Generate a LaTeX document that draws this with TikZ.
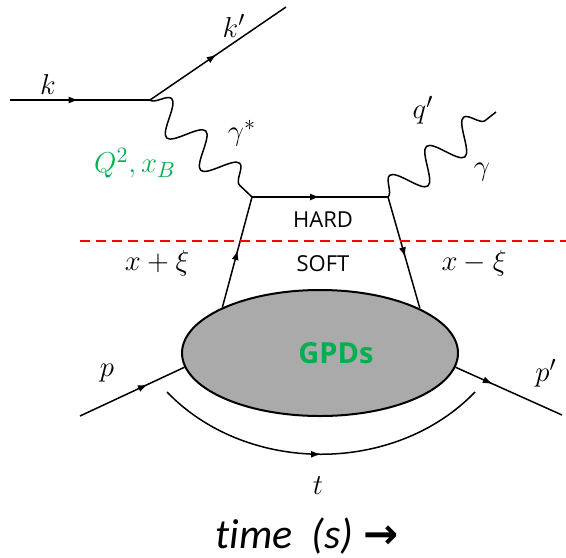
\documentclass[tikz,border=0pt]{standalone}
\usepackage{fontspec}
\usepackage{amsmath}
\usepackage{tikz}
\usetikzlibrary{shapes.geometric,arrows.meta,positioning,decorations.pathmorphing,decorations.markings}
\newfontfamily\labelfont{Open Sans}
\newfontfamily\timefont[Ligatures=NoCommon]{Carlito}
\newfontfamily\symfont{DejaVu Sans}
\definecolor{gpdgreen}{RGB}{0,176,80}
\definecolor{gpdgray}{RGB}{170,170,170}

\begin{document}
\begin{tikzpicture}[
  x=0.5pt, y=-0.5pt,
  fermion/.style={line width=0.75pt, postaction={decorate},
    decoration={markings, mark=at position #1 with {\arrow{Latex[length=5pt,width=3.5pt]}}}},
  fermion/.default=0.5,
  photon/.style={line width=0.75pt, decorate, decoration={snake, amplitude=8pt, segment length=23.5pt}},
  lbl/.style={font=\fontsize{15}{18}\selectfont},
  region/.style={font=\labelfont\fontsize{11}{13}\selectfont},
  blob/.style={ellipse, draw, line width=1pt, fill=gpdgray, minimum width=138pt, minimum height=63pt,
    inner sep=0pt, font=\labelfont\bfseries\fontsize{14.5}{16}\selectfont, text=gpdgreen}
]
\useasboundingbox (0,0) rectangle (566,557);

% vertices and free ends
\coordinate (kin) at (10,100);
\coordinate (v1) at (150,100);
\coordinate (kout) at (286,7);
\coordinate (v2) at (252,197);
\coordinate (v3) at (388,197);
\coordinate (qout) at (496,112);
\coordinate (pin) at (80,416);
\coordinate (pout) at (562,415);
\coordinate (tL) at (167,392);
\coordinate (tR) at (475,392);
\coordinate (cutL) at (80,241);
\coordinate (cutR) at (566,241);

\node[blob] (gpd) at (320,353) {\hspace*{16pt}GPDs};

% lepton side
\draw[fermion=0.49] (kin) -- (v1);
\draw[fermion=0.49] (v1) -- (kout);
\draw[photon] (v1) -- (v2);

% hard part
\draw[fermion] (v2) -- (v3);
\draw[fermion=0.52] (gpd.155.8) -- (v2);
\draw[fermion=0.54] (v3) -- (gpd.24.2);
\draw[photon] (v3) -- (qout);

% hadron side
\draw[fermion=0.65] (pin) -- (gpd.186.3);
\draw[fermion=0.35] (gpd.-6.3) -- (pout);
\draw[fermion] (tL) .. controls +(80,83) and +(-80,83) .. (tR);

% hard / soft cut
\draw[red, line width=1pt, dash pattern=on 5pt off 3pt] (cutL) -- (cutR);

% labels
\node[lbl] (klbl) at (48,84) {$k$};
\node[lbl] (kplbl) at (234,26) {$k'$};
\node[lbl] (gslbl) at (242,133) {$\gamma^*$};
\node[lbl, text=gpdgreen] (kinlbl) at (135,163) {$Q^2, x_B$};
\node[lbl] (qplbl) at (423,110) {$q'$};
\node[lbl] (glbl) at (482,172) {$\gamma$};
\node[region] (hard) at (323,220) {HARD};
\node[region] (soft) at (323,264) {SOFT};
\node[lbl] (xplbl) at (157,263) {$x+\xi$};
\node[lbl] (xmlbl) at (474,263) {$x-\xi$};
\node[lbl] (plbl) at (107,373) {$p$};
\node[lbl] (pplbl) at (546,373) {$p'$};
\node[lbl] (tlbl) at (318,486) {$t$};
\node[font=\timefont\itshape\fontsize{21}{25}\selectfont] (time) at (307,536) {time\ \ (s) {\symfont\bfseries →}};
\end{tikzpicture}
\end{document}
